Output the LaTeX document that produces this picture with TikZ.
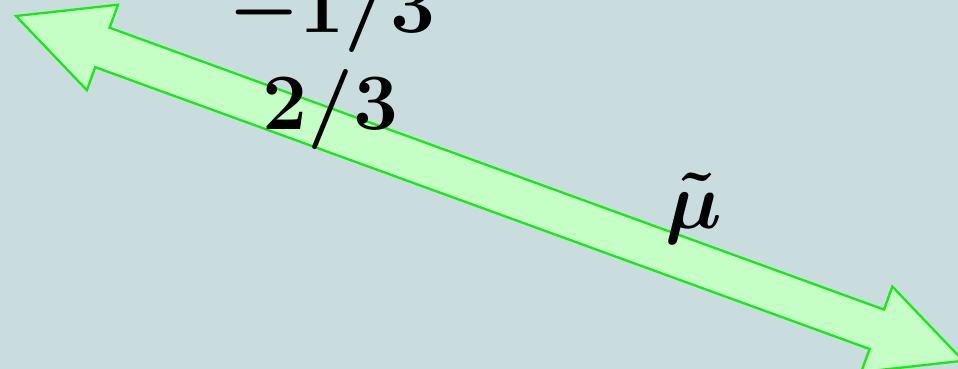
\RequirePackage{fix-cm}
\documentclass[tikz,border=0pt]{standalone}
\definecolor{backdrop}{RGB}{201,221,223}
\definecolor{bandline}{RGB}{20,235,20}
\definecolor{bandfill}{RGB}{198,255,198}
\begin{document}
\begin{tikzpicture}[x=0.5pt, y=-0.5pt,
    band/.style={draw=bandline, fill=bandfill, line width=1.15pt, line join=miter},
    charge/.style={font=\fontsize{40}{48}\selectfont\boldmath, anchor=base, inner sep=0pt}
]

\useasboundingbox (0,0) rectangle (958,369);
\fill[backdrop] (0,0) rectangle (958,369);
\clip (0,0) rectangle (958,369);

\begin{scope}[shift={(16,16)}, rotate=-20]
\draw[band] (0,0) -- (92,-45.5) -- (92,-21) -- (916,-21) -- (916,-45.5)
    -- (1008,0) -- (916,45.5) -- (916,21) -- (92,21) -- (92,45.5) -- cycle;
\end{scope}

\node[charge] (downq) at (332,33) {$-1/3$};
\node[charge] (upq) at (330,130) {$2/3$};
\node[charge] (smuon) at (694,228) {$\tilde{\mu}$};

\end{tikzpicture}
\end{document}
